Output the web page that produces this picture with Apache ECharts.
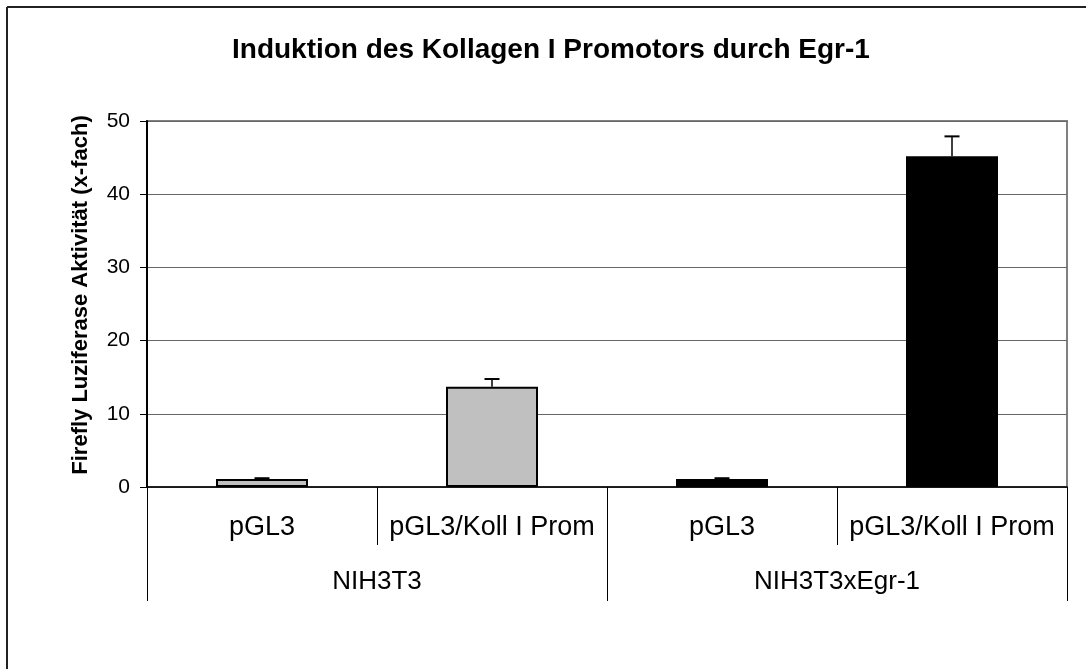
<!DOCTYPE html>
<html>
<head>
<meta charset="utf-8">
<script src="https://cdn.jsdelivr.net/npm/echarts@6/dist/echarts.min.js"></script>
<style>
  html, body { margin: 0; padding: 0; background: #fff; }
  #chart { width: 1086px; height: 669px; }
</style>
</head>
<body>
<div id="chart"></div>
<script>
// Luciferase reporter data: fold activity per construct, grouped by cell line
const constructs = ['pGL3', 'pGL3/Koll I Prom', 'pGL3', 'pGL3/Koll I Prom'];
const cellLines = ['NIH3T3', 'NIH3T3xEgr-1'];
const activity = [1.1, 13.7, 1.1, 45.2];
const errorPlus = [0.1, 1.05, 0.1, 2.7];
const barColors = ['#C0C0C0', '#C0C0C0', '#000000', '#000000'];
const yTicks = [0, 10, 20, 30, 40, 50];

const font = 'Arial, "Liberation Sans", sans-serif';

const chart = echarts.init(document.getElementById('chart'), null, { renderer: 'canvas' });

const option = {
  backgroundColor: '#ffffff',
  animation: false,
  title: {
    text: 'Induktion des Kollagen I Promotors durch Egr-1',
    left: 227,
    top: 31,
    textStyle: { fontFamily: font, fontSize: 28, fontWeight: 'bold', color: '#000' }
  },
  graphic: [
    { type: 'line', shape: { x1: 7, y1: 7, x2: 1086, y2: 7 }, style: { stroke: '#222', lineWidth: 2 } },
    { type: 'line', shape: { x1: 7, y1: 7, x2: 7, y2: 669 }, style: { stroke: '#222', lineWidth: 2 } }
  ],
  grid: {
    left: 147, right: 19, top: 121, bottom: 182,
    show: true, borderColor: '#808080', borderWidth: 2
  },
  xAxis: [
    {
      type: 'category',
      data: constructs,
      position: 'bottom',
      axisLine: { lineStyle: { color: '#000', width: 1.5 } },
      axisTick: { show: true, alignWithLabel: false, length: 58, lineStyle: { color: '#000', width: 1 } },
      axisLabel: { interval: 0, margin: 27, fontFamily: font, fontSize: 27, lineHeight: 27, color: '#000' }
    },
    {
      type: 'category',
      data: cellLines,
      position: 'bottom',
      axisLine: { show: false },
      axisTick: { show: true, length: 114, lineStyle: { color: '#000', width: 1 } },
      axisLabel: { interval: 0, margin: 82, fontFamily: font, fontSize: 26, lineHeight: 26, color: '#000' }
    }
  ],
  yAxis: {
    type: 'value',
    min: yTicks[0],
    max: yTicks[yTicks.length - 1],
    interval: 10,
    name: 'Firefly Luziferase Aktivität (x-fach)',
    nameLocation: 'middle',
    nameRotate: 90,
    nameGap: 55,
    nameTextStyle: { fontFamily: font, fontSize: 22, fontWeight: 'bold', color: '#000', padding: [0, 0, 0, 18] },
    axisLine: { show: true, lineStyle: { color: '#000', width: 2 } },
    axisTick: { show: true, inside: false, length: 7, lineStyle: { color: '#000' } },
    axisLabel: { margin: 17, fontFamily: font, fontSize: 21, color: '#000' },
    splitLine: { show: true, lineStyle: { color: '#666', width: 1 } }
  },
  series: [
    {
      type: 'bar',
      xAxisIndex: 0,
      barWidth: '40%',
      data: activity.map((v, i) => ({
        value: v,
        itemStyle: { color: barColors[i], borderColor: '#000', borderWidth: 2 }
      })),
      z: 3
    },
    {
      // Upper error bars: vertical stem plus a short cap
      type: 'custom',
      xAxisIndex: 0,
      z: 4,
      data: activity.map((v, i) => [i, v, v + errorPlus[i]]),
      renderItem: function (params, api) {
        const x = api.coord([api.value(0), api.value(1)])[0];
        const yLow = api.coord([api.value(0), api.value(1)])[1];
        const yHigh = api.coord([api.value(0), api.value(2)])[1];
        const half = 7.5;
        return {
          type: 'group',
          children: [
            { type: 'line', shape: { x1: x, y1: yLow, x2: x, y2: yHigh }, style: { stroke: '#000', lineWidth: 1.5 } },
            { type: 'line', shape: { x1: x - half, y1: yHigh, x2: x + half, y2: yHigh }, style: { stroke: '#000', lineWidth: 2 } }
          ]
        };
      }
    }
  ]
};

chart.setOption(option);
</script>
</body>
</html>
